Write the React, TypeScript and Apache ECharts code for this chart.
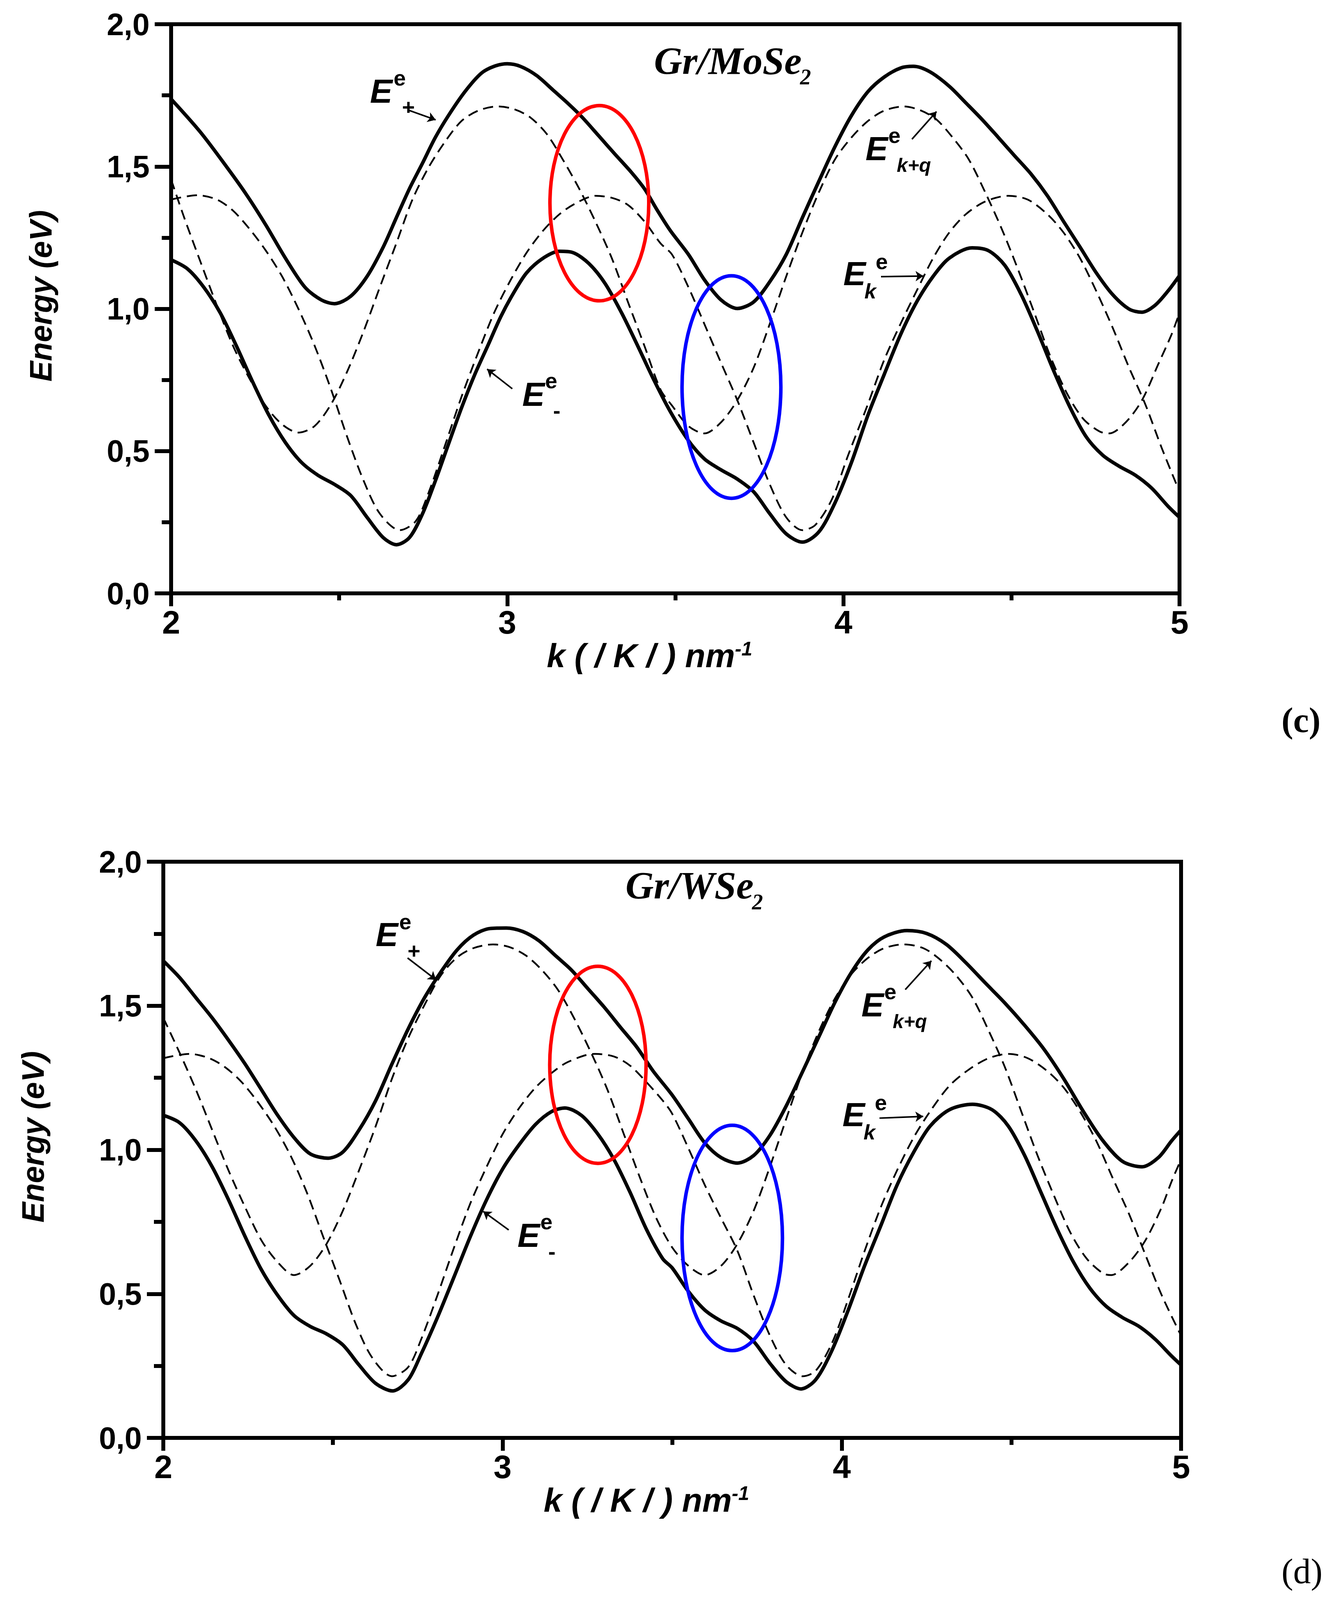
import React, { useEffect, useRef } from 'react';
import * as echarts from 'echarts';

// ---------- tick labels ----------
const xTickLabels = ['2', '3', '4', '5'];
const yTickLabels = ['0,0', '0,5', '1,0', '1,5', '2,0'];

// ---------- (c) Gr/MoSe2 ----------
const moseEplus = [
  [2.000, 1.737], [2.087, 1.621], [2.165, 1.499], [2.223, 1.403], [2.282, 1.294], [2.340, 1.178], [2.398, 1.076],
  [2.447, 1.031], [2.486, 1.018], [2.534, 1.044], [2.583, 1.114], [2.631, 1.217], [2.670, 1.320], [2.709, 1.422],
  [2.748, 1.512], [2.786, 1.602], [2.825, 1.679], [2.874, 1.763], [2.922, 1.827], [2.961, 1.852], [3.000, 1.861],
  [3.039, 1.852], [3.087, 1.820], [3.136, 1.769], [3.184, 1.718], [3.223, 1.673], [3.272, 1.608], [3.320, 1.544],
  [3.369, 1.480], [3.408, 1.422], [3.447, 1.345], [3.485, 1.275], [3.539, 1.191], [3.587, 1.101], [3.636, 1.031],
  [3.684, 1.001], [3.733, 1.024], [3.781, 1.095], [3.830, 1.191], [3.878, 1.320], [3.927, 1.448], [3.975, 1.570],
  [4.024, 1.679], [4.073, 1.763], [4.121, 1.814], [4.170, 1.846], [4.208, 1.852], [4.257, 1.833], [4.315, 1.782],
  [4.364, 1.724], [4.412, 1.666], [4.461, 1.602], [4.509, 1.538], [4.558, 1.474], [4.607, 1.397], [4.655, 1.307],
  [4.704, 1.217], [4.752, 1.127], [4.801, 1.050], [4.850, 0.999], [4.888, 0.988], [4.927, 1.012], [4.966, 1.063],
  [5.000, 1.117],
];
const moseEminus = [
  [2.000, 1.172], [2.049, 1.140], [2.097, 1.076], [2.146, 0.986], [2.194, 0.870], [2.243, 0.742], [2.291, 0.626],
  [2.340, 0.530], [2.388, 0.460], [2.437, 0.415], [2.486, 0.383], [2.534, 0.344], [2.583, 0.267], [2.631, 0.196],
  [2.670, 0.171], [2.709, 0.196], [2.748, 0.280], [2.786, 0.395], [2.825, 0.524], [2.864, 0.652], [2.903, 0.768],
  [2.942, 0.870], [2.981, 0.973], [3.019, 1.056], [3.058, 1.127], [3.107, 1.178], [3.155, 1.202], [3.194, 1.198],
  [3.243, 1.159], [3.291, 1.089], [3.340, 0.986], [3.388, 0.870], [3.437, 0.748], [3.485, 0.639], [3.539, 0.537],
  [3.587, 0.472], [3.636, 0.434], [3.684, 0.402], [3.733, 0.357], [3.781, 0.280], [3.830, 0.209], [3.878, 0.180],
  [3.927, 0.216], [3.975, 0.318], [4.024, 0.460], [4.073, 0.626], [4.121, 0.768], [4.170, 0.909], [4.218, 1.024],
  [4.267, 1.114], [4.315, 1.178], [4.383, 1.214], [4.432, 1.204], [4.480, 1.153], [4.529, 1.050], [4.577, 0.922],
  [4.626, 0.781], [4.675, 0.652], [4.723, 0.549], [4.772, 0.485], [4.820, 0.447], [4.869, 0.415], [4.917, 0.370],
  [4.966, 0.306], [5.000, 0.267],
];
const moseEkq = [
  [2.000, 1.454], [2.039, 1.320], [2.087, 1.166], [2.136, 1.012], [2.184, 0.870], [2.233, 0.755], [2.282, 0.658],
  [2.330, 0.594], [2.379, 0.565], [2.427, 0.588], [2.476, 0.665], [2.524, 0.780], [2.573, 0.922], [2.621, 1.076],
  [2.670, 1.230], [2.718, 1.384], [2.767, 1.499], [2.816, 1.589], [2.864, 1.660], [2.913, 1.696], [2.971, 1.711],
  [3.019, 1.702], [3.068, 1.673], [3.117, 1.615], [3.165, 1.525], [3.214, 1.422], [3.262, 1.307], [3.311, 1.178],
  [3.359, 1.024], [3.408, 0.870], [3.456, 0.716], [3.490, 0.660], [3.539, 0.588], [3.587, 0.562], [3.636, 0.601],
  [3.684, 0.678], [3.733, 0.793], [3.781, 0.947], [3.830, 1.114], [3.878, 1.268], [3.927, 1.409], [3.975, 1.525],
  [4.024, 1.602], [4.073, 1.660], [4.121, 1.696], [4.179, 1.711], [4.228, 1.698], [4.276, 1.666], [4.325, 1.602],
  [4.373, 1.525], [4.422, 1.409], [4.471, 1.281], [4.519, 1.140], [4.568, 0.986], [4.616, 0.832], [4.665, 0.703],
  [4.713, 0.614], [4.762, 0.569], [4.791, 0.562], [4.840, 0.601], [4.888, 0.678], [4.937, 0.806], [4.976, 0.909],
  [5.000, 0.986],
];
const moseEk = [
  [2.000, 1.384], [2.078, 1.399], [2.136, 1.384], [2.184, 1.345], [2.233, 1.281], [2.282, 1.204], [2.330, 1.114],
  [2.379, 0.999], [2.427, 0.870], [2.476, 0.716], [2.524, 0.549], [2.573, 0.395], [2.621, 0.280], [2.680, 0.222],
  [2.728, 0.254], [2.767, 0.357], [2.816, 0.524], [2.864, 0.691], [2.913, 0.845], [2.961, 0.986], [3.010, 1.101],
  [3.058, 1.198], [3.107, 1.275], [3.155, 1.332], [3.204, 1.371], [3.262, 1.397], [3.311, 1.390], [3.359, 1.365],
  [3.408, 1.307], [3.456, 1.230], [3.490, 1.191], [3.539, 1.076], [3.587, 0.945], [3.636, 0.810], [3.684, 0.680],
  [3.733, 0.530], [3.781, 0.383], [3.830, 0.267], [3.878, 0.222], [3.917, 0.241], [3.966, 0.331], [4.014, 0.485],
  [4.073, 0.665], [4.121, 0.819], [4.170, 0.947], [4.218, 1.063], [4.267, 1.178], [4.315, 1.268], [4.364, 1.332],
  [4.422, 1.377], [4.490, 1.397], [4.548, 1.384], [4.607, 1.332], [4.655, 1.268], [4.704, 1.178], [4.752, 1.063],
  [4.801, 0.934], [4.850, 0.793], [4.898, 0.665], [4.947, 0.511], [5.000, 0.357],
];
// ellipses: [centre k, centre E, half width (k), half height (E)]
const moseRings = [
  [3.274, 1.371, 0.147, 0.343],
  [3.667, 0.725, 0.147, 0.391],
];
// annotation anchors (left / baseline of the "E")
const moseLabels = [
  { k: 2.597, E: 1.725, kind: 'plus' },
  { k: 3.050, E: 0.659, kind: 'minus' },
  { k: 4.071, E: 1.523, kind: 'kq' },
  { k: 4.005, E: 1.083, kind: 'k' },
];
const moseArrows = [
  [[2.704, 1.699], [2.787, 1.664]],
  [[3.015, 0.719], [2.940, 0.788]],
  [[4.204, 1.596], [4.277, 1.693]],
  [[4.112, 1.113], [4.238, 1.115]],
];

// ---------- (d) Gr/WSe2 ----------
const wseEplus = [
  [2.000, 1.656], [2.048, 1.598], [2.096, 1.528], [2.144, 1.458], [2.192, 1.381], [2.241, 1.298], [2.289, 1.209],
  [2.337, 1.120], [2.385, 1.043], [2.433, 0.986], [2.486, 0.971], [2.529, 0.992], [2.577, 1.069], [2.626, 1.171],
  [2.674, 1.298], [2.722, 1.420], [2.770, 1.528], [2.818, 1.617], [2.866, 1.694], [2.914, 1.745], [2.962, 1.768],
  [3.011, 1.770], [3.059, 1.758], [3.107, 1.726], [3.155, 1.675], [3.203, 1.624], [3.251, 1.560], [3.299, 1.496],
  [3.347, 1.426], [3.396, 1.356], [3.444, 1.273], [3.500, 1.190], [3.548, 1.107], [3.596, 1.024], [3.644, 0.973],
  [3.692, 0.954], [3.740, 0.980], [3.788, 1.050], [3.836, 1.152], [3.885, 1.273], [3.933, 1.394], [3.981, 1.515],
  [4.029, 1.617], [4.077, 1.694], [4.125, 1.739], [4.192, 1.761], [4.250, 1.751], [4.308, 1.713], [4.366, 1.649],
  [4.423, 1.579], [4.481, 1.509], [4.539, 1.432], [4.596, 1.349], [4.654, 1.247], [4.712, 1.133], [4.770, 1.031],
  [4.827, 0.960], [4.885, 0.941], [4.933, 0.973], [4.972, 1.031], [5.000, 1.069],
];
const wseEminus = [
  [2.000, 1.120], [2.048, 1.094], [2.096, 1.031], [2.144, 0.941], [2.192, 0.827], [2.241, 0.699], [2.289, 0.584],
  [2.337, 0.495], [2.385, 0.425], [2.433, 0.387], [2.481, 0.361], [2.529, 0.323], [2.577, 0.253], [2.626, 0.189],
  [2.676, 0.163], [2.722, 0.202], [2.760, 0.291], [2.808, 0.418], [2.857, 0.559], [2.905, 0.699], [2.953, 0.827],
  [3.001, 0.935], [3.049, 1.018], [3.097, 1.088], [3.145, 1.133], [3.184, 1.145], [3.232, 1.120], [3.280, 1.056],
  [3.328, 0.967], [3.376, 0.852], [3.424, 0.724], [3.472, 0.622], [3.500, 0.590], [3.548, 0.508], [3.596, 0.444],
  [3.644, 0.406], [3.692, 0.380], [3.740, 0.335], [3.788, 0.259], [3.836, 0.195], [3.880, 0.170], [3.923, 0.202],
  [3.971, 0.304], [4.019, 0.444], [4.067, 0.597], [4.115, 0.737], [4.163, 0.878], [4.212, 0.992], [4.260, 1.082],
  [4.317, 1.139], [4.385, 1.158], [4.443, 1.139], [4.491, 1.082], [4.539, 0.980], [4.587, 0.852], [4.635, 0.724],
  [4.683, 0.610], [4.731, 0.520], [4.779, 0.457], [4.827, 0.418], [4.876, 0.387], [4.924, 0.342], [4.972, 0.284],
  [5.000, 0.253],
];
const wseEkq = [
  [2.000, 1.458], [2.048, 1.337], [2.096, 1.209], [2.144, 1.069], [2.192, 0.929], [2.241, 0.801], [2.289, 0.686],
  [2.337, 0.610], [2.385, 0.565], [2.433, 0.597], [2.481, 0.673], [2.529, 0.788], [2.577, 0.929], [2.626, 1.082],
  [2.674, 1.247], [2.722, 1.388], [2.770, 1.503], [2.818, 1.605], [2.866, 1.668], [2.914, 1.700], [2.972, 1.713],
  [3.020, 1.704], [3.068, 1.675], [3.116, 1.624], [3.164, 1.554], [3.213, 1.452], [3.261, 1.337], [3.309, 1.209],
  [3.357, 1.056], [3.405, 0.903], [3.453, 0.763], [3.500, 0.661], [3.548, 0.597], [3.596, 0.565], [3.644, 0.597],
  [3.692, 0.673], [3.740, 0.788], [3.788, 0.941], [3.836, 1.107], [3.885, 1.273], [3.933, 1.413], [3.981, 1.528],
  [4.029, 1.611], [4.077, 1.666], [4.125, 1.700], [4.183, 1.713], [4.240, 1.700], [4.288, 1.662], [4.337, 1.605],
  [4.385, 1.528], [4.433, 1.413], [4.481, 1.286], [4.529, 1.133], [4.577, 0.980], [4.626, 0.839], [4.674, 0.712],
  [4.722, 0.622], [4.770, 0.571], [4.794, 0.565], [4.847, 0.610], [4.895, 0.686], [4.943, 0.801], [4.972, 0.890],
  [5.000, 0.967],
];
const wseEk = [
  [2.000, 1.318], [2.077, 1.333], [2.135, 1.318], [2.183, 1.286], [2.231, 1.235], [2.279, 1.165], [2.327, 1.082],
  [2.375, 0.980], [2.423, 0.852], [2.471, 0.699], [2.520, 0.546], [2.568, 0.393], [2.616, 0.278], [2.674, 0.214],
  [2.722, 0.246], [2.760, 0.342], [2.808, 0.495], [2.857, 0.661], [2.905, 0.814], [2.953, 0.941], [3.001, 1.056],
  [3.049, 1.145], [3.097, 1.216], [3.145, 1.267], [3.193, 1.305], [3.270, 1.333], [3.328, 1.324], [3.376, 1.292],
  [3.424, 1.235], [3.472, 1.171], [3.500, 1.125], [3.548, 1.005], [3.596, 0.878], [3.644, 0.763], [3.692, 0.650],
  [3.740, 0.495], [3.788, 0.355], [3.836, 0.253], [3.885, 0.214], [3.923, 0.233], [3.971, 0.329], [4.019, 0.482],
  [4.067, 0.648], [4.115, 0.801], [4.163, 0.929], [4.212, 1.043], [4.260, 1.133], [4.317, 1.222], [4.375, 1.279],
  [4.433, 1.318], [4.491, 1.333], [4.548, 1.318], [4.606, 1.273], [4.654, 1.216], [4.702, 1.133], [4.750, 1.031],
  [4.798, 0.903], [4.847, 0.776], [4.895, 0.635], [4.943, 0.495], [5.000, 0.355],
];
const wseRings = [
  [3.281, 1.295, 0.142, 0.342],
  [3.677, 0.694, 0.148, 0.391],
];
const wseLabels = [
  { k: 2.631, E: 1.707, kind: 'plus' },
  { k: 3.049, E: 0.663, kind: 'minus' },
  { k: 4.063, E: 1.464, kind: 'kq' },
  { k: 4.007, E: 1.082, kind: 'k' },
];
const wseArrows = [
  [[2.720, 1.666], [2.804, 1.590]],
  [[3.018, 0.722], [2.943, 0.786]],
  [[4.187, 1.556], [4.264, 1.656]],
  [[4.111, 1.110], [4.240, 1.116]],
];

const ringColors = ['#ff0000', '#0000ff'];

// ---------- layout (the photographed area is 3440 x 4096) ----------
const PAGE_W = 3440;
const PAGE_H = 4096;
const SY = PAGE_H / 5361; // vertical layout factor
const FS = 0.9; // font factor
const f = (v: number) => Math.round(v * FS);

const SANS = '"Liberation Sans", Arial, Helvetica, sans-serif';
const SERIF = '"Liberation Serif", "Times New Roman", serif';
const C_SANS = 0.3465;
const C_SERIF = 0.3375;

function txt(str: string, x: number, base: number, fs: number, italic: boolean, align = 'left', family = SANS, c = C_SANS, weight = 'bold') {
  return {
    type: 'text',
    x,
    y: base - c * fs,
    silent: true,
    style: {
      text: str,
      fill: '#000',
      fontSize: fs,
      fontFamily: family,
      fontWeight: weight,
      fontStyle: italic ? 'italic' : 'normal',
      align,
      verticalAlign: 'middle',
    },
  };
}

function labelParts(kind: string) {
  const E = f(96), SUP = f(62), SUB = f(62), KQ = f(56), KS = f(60);
  const o = (v: number) => v * FS;
  const parts: any[] = [txt('E', o(-5), 0, E, true)];
  if (kind === 'plus') parts.push(txt('e', o(62), o(-48), SUP, false), txt('+', o(104), o(34), SUB, false, 'center'));
  if (kind === 'minus') parts.push(txt('e', o(60), o(-50), SUP, false), txt('-', o(93), o(34), SUB, false, 'center'));
  if (kind === 'kq') parts.push(txt('e', o(60), o(-48), SUP, false), txt('k+q', o(84), o(34), KQ, true));
  if (kind === 'k') parts.push(txt('k', o(55), o(37), KS, true), txt('e', o(87), o(-46), SUP, false));
  return parts;
}

function curve(data: number[][], gi: number, dashed: boolean, extra: any = {}) {
  return {
    type: 'line',
    xAxisIndex: gi,
    yAxisIndex: gi,
    data,
    smooth: 0.3,
    showSymbol: false,
    symbol: 'none',
    silent: true,
    z: dashed ? 3 : 4,
    lineStyle: dashed
      ? { color: '#000', width: 4.5, type: [26, 15] }
      : { color: '#000', width: 9 },
    ...extra,
  };
}

function panelSeries(gi: number, up: number[][], down: number[][], kq: number[][], k: number[][], rings: number[][], labels: any[], arrows: number[][][]) {
  return [
    curve(kq, gi, true),
    curve(k, gi, true),
    curve(down, gi, false),
    curve(up, gi, false, {
      markLine: {
        silent: true,
        symbol: ['none', 'arrow'],
        symbolSize: 20,
        label: { show: false },
        emphasis: { disabled: true },
        lineStyle: { color: '#000', width: 4, type: 'solid' },
        data: arrows.map((a) => [{ coord: a[0] }, { coord: a[1] }]),
      },
    }),
    {
      type: 'custom',
      xAxisIndex: gi,
      yAxisIndex: gi,
      silent: true,
      z: 6,
      data: rings,
      renderItem: (params: any, api: any) => {
        const c = api.coord([api.value(0), api.value(1)]);
        const s = api.size([api.value(2), api.value(3)]);
        return {
          type: 'ellipse',
          shape: { cx: c[0], cy: c[1], rx: s[0], ry: s[1] },
          style: { fill: 'none', stroke: ringColors[params.dataIndex], lineWidth: 9 },
        };
      },
    },
    {
      type: 'custom',
      xAxisIndex: gi,
      yAxisIndex: gi,
      silent: true,
      z: 7,
      data: labels.map((l) => [l.k, l.E]),
      renderItem: (params: any, api: any) => {
        const p = api.coord([api.value(0), api.value(1)]);
        return { type: 'group', x: p[0], y: p[1], children: labelParts(labels[params.dataIndex].kind) };
      },
    },
  ];
}

function xAxisCfg(gi: number) {
  const aFs = f(94);
  return {
    gridIndex: gi,
    type: 'value',
    min: 2,
    max: 5,
    interval: 1,
    axisLine: { show: true, onZero: false, lineStyle: { color: '#000', width: 10 } },
    axisTick: { show: true, inside: false, length: Math.round(43 * SY), lineStyle: { color: '#000', width: 10 } },
    minorTick: { show: true, splitNumber: 2, length: Math.round(24 * SY), lineStyle: { color: '#000', width: 10 } },
    splitLine: { show: false },
    minorSplitLine: { show: false },
    axisLabel: {
      margin: Math.round(57 * SY - 0.13 * f(92)),
      color: '#000',
      fontSize: f(92),
      fontWeight: 'bold',
      fontFamily: SANS,
      formatter: (v: number) => xTickLabels[Math.round(v - 2)] ?? '',
    },
    name: '{a|k ( / K / ) nm}{s|-1}',
    nameLocation: 'middle',
    nameGap: Math.round(241 * SY - (0.5 + C_SANS) * aFs),
    nameTextStyle: {
      padding: [0, 132, 0, 0],
      rich: {
        a: { fontSize: aFs, fontWeight: 'bold', fontStyle: 'italic', fontFamily: SANS, color: '#000' },
        s: { fontSize: f(56), fontWeight: 'bold', fontStyle: 'italic', fontFamily: SANS, color: '#000', verticalAlign: 'top' },
      },
    },
  };
}

function yAxisCfg(gi: number) {
  return {
    gridIndex: gi,
    type: 'value',
    min: 0,
    max: 2,
    interval: 0.5,
    axisLine: { show: true, onZero: false, lineStyle: { color: '#000', width: 10 } },
    axisTick: { show: true, inside: false, length: 42, lineStyle: { color: '#000', width: 10 } },
    minorTick: { show: true, splitNumber: 2, length: 24, lineStyle: { color: '#000', width: 10 } },
    splitLine: { show: false },
    minorSplitLine: { show: false },
    axisLabel: {
      margin: 55,
      color: '#000',
      fontSize: f(88),
      fontWeight: 'bold',
      fontFamily: SANS,
      padding: [0, 0, Math.round(22 * SY), 0],
      formatter: (v: number) => yTickLabels[Math.round(v / 0.5)] ?? '',
    },
    name: 'Energy (eV)',
    nameLocation: 'middle',
    nameGap: 294,
    nameTextStyle: {
      fontSize: f(88),
      fontWeight: 'bold',
      fontStyle: 'italic',
      fontFamily: SANS,
      color: '#000',
      padding: [0, 0, 0, Math.round(86 * SY)],
    },
  };
}

export default function App() {
  const ref = useRef<HTMLDivElement>(null);
  useEffect(() => {
    if (!ref.current) return;
    const chart = echarts.init(ref.current, null, { renderer: 'svg' });
    const titleFs = f(111);
    const subFs = f(62);
    const moseW = 3.778 * titleFs;
    const wseW = 3.278 * titleFs;
    chart.setOption({
      animation: false,
      backgroundColor: '#fff',
      grid: [
        { left: 438, top: Math.round(81 * SY), width: 2581, height: Math.round(1907 * SY), show: true, borderColor: '#000', borderWidth: 10, backgroundColor: 'transparent' },
        { left: 418, top: Math.round(2887 * SY), width: 2605, height: Math.round(1930 * SY), show: true, borderColor: '#000', borderWidth: 10, backgroundColor: 'transparent' },
      ],
      xAxis: [xAxisCfg(0), xAxisCfg(1)],
      yAxis: [yAxisCfg(0), yAxisCfg(1)],
      series: [
        ...panelSeries(0, moseEplus, moseEminus, moseEkq, moseEk, moseRings, moseLabels, moseArrows),
        ...panelSeries(1, wseEplus, wseEminus, wseEkq, wseEk, wseRings, wseLabels, wseArrows),
      ],
      graphic: [
        txt('Gr/MoSe', 1674, 248 * SY, titleFs, true, 'left', SERIF, C_SERIF),
        txt('2', 1674 + moseW - 4, 283 * SY, subFs, true, 'left', SERIF, C_SERIF),
        txt('Gr/WSe', 1601, 3010 * SY, titleFs, true, 'left', SERIF, C_SERIF),
        txt('2', 1601 + wseW - 4, 3047 * SY, subFs, true, 'left', SERIF, C_SERIF),
        txt('(c)', 3280, 2453 * SY, f(100), false, 'left', SERIF, C_SERIF, 'bold'),
        txt('(d)', 3280, 5304 * SY, f(100), false, 'left', SERIF, C_SERIF, 'normal'),
      ],
    });
    return () => chart.dispose();
  }, []);
  return <div ref={ref} style={{ position: 'absolute', left: 0, top: 0, width: PAGE_W, height: PAGE_H }} />;
}
